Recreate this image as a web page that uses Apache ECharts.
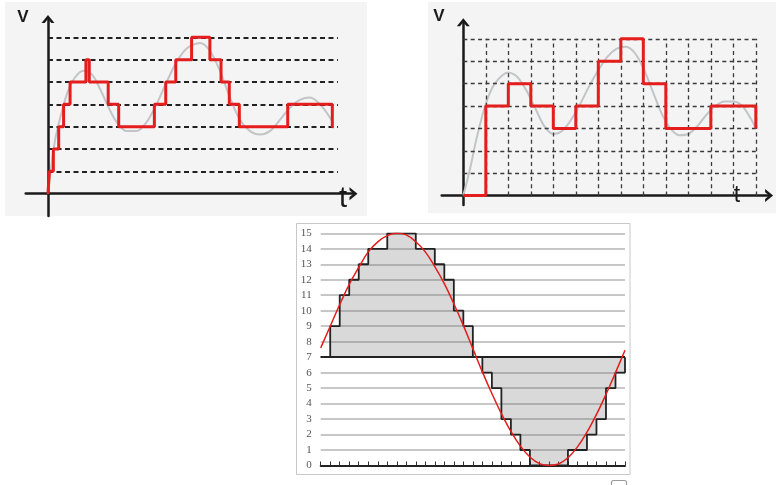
<!DOCTYPE html>
<html>
<head>
<meta charset="utf-8">
<script src="https://cdn.jsdelivr.net/npm/echarts@6/dist/echarts.min.js"></script>
<style>
  html, body { margin: 0; padding: 0; background: #ffffff; }
  #chart { width: 776px; height: 485px; }
</style>
</head>
<body>
<div id="chart"></div>
<script>
// ---- Panel A: irregular-time quantisation (levels 0..7) ----
const aLevels = [1, 2, 3, 4, 5, 6, 7];
const aStepT = [0, 0.06, 0.24, 0.48, 0.70, 0.99, 1.70, 1.85, 2.70, 3.17, 4.77, 5.28, 5.73, 6.44, 7.26, 7.76, 8.13, 8.58, 10.75, 12.75, 12.8];
const aStepV = [0, 1, 2, 3, 4, 5, 6, 5, 4, 3, 4, 5, 6, 7, 6, 5, 4, 3, 4, 3, 3];
const aWaveT = [0, 0.3, 0.6, 0.9, 1.21, 1.58, 1.96, 2.33, 2.7, 3.08, 3.53, 3.98, 4.42, 4.87, 5.32, 5.77, 6.22, 6.82, 7.26, 7.71, 8.16, 8.61, 9.06, 9.5, 9.95, 10.4, 10.85, 11.3, 11.75, 12.2, 12.65, 12.8];
const aWaveV = [0, 2.3, 3.6, 4.6, 5.2, 5.5, 5.35, 4.7, 3.9, 3.2, 2.8, 2.8, 3.2, 4.0, 5.0, 5.9, 6.5, 6.75, 6.4, 5.5, 4.3, 3.3, 2.8, 2.65, 2.8, 3.3, 3.85, 4.2, 4.3, 4.0, 3.4, 3.1];

// ---- Panel B: sampled at fixed intervals (13 columns, levels 0..7) ----
const bColumns = [1, 2, 3, 4, 5, 6, 7, 8, 9, 10, 11, 12, 13];
const bLevels = [1, 2, 3, 4, 5, 6, 7];
const bStepT = [0, 1, 2, 3, 4, 5, 6, 7, 8, 9, 11, 13];
const bStepV = [0, 4, 5, 4, 3, 4, 6, 7, 5, 3, 4, 3];
const bWaveT = [0, 0.3, 0.6, 1.0, 1.4, 2.0, 2.4, 2.8, 3.2, 3.6, 4.0, 4.4, 4.8, 5.2, 5.6, 6.0, 6.4, 6.8, 7.2, 7.6, 8.0, 8.4, 8.8, 9.2, 9.6, 10.0, 10.4, 10.8, 11.2, 11.6, 12.0, 12.4, 12.8, 13.0];
const bWaveV = [0, 1.2, 2.6, 4.1, 5.0, 5.5, 5.3, 4.7, 3.9, 3.1, 2.75, 2.9, 3.4, 4.1, 4.9, 5.6, 6.2, 6.55, 6.65, 6.4, 5.7, 4.7, 3.7, 3.0, 2.7, 2.75, 3.1, 3.6, 4.0, 4.2, 4.2, 4.0, 3.4, 3.0];

// ---- Panel C: 4-bit quantised sine (32 samples, codes 0..15) ----
const cCodes = [7, 9, 11, 12, 13, 14, 14, 15, 15, 15, 14, 14, 13, 12, 10, 9, 7, 6, 5, 3, 2, 1, 0, 0, 0, 0, 1, 1, 2, 3, 5, 6, 7];
const cSine = [7.6, 9.0, 10.4, 11.7, 12.8, 13.8, 14.45, 14.85, 15.0, 14.9, 14.45, 13.8, 12.85, 11.75, 10.45, 9.05, 7.55, 6.05, 4.65, 3.35, 2.2, 1.25, 0.55, 0.12, 0.0, 0.1, 0.5, 1.2, 2.15, 3.3, 4.6, 6.0, 7.45];
const cMidCode = 7;

const RED = '#e41d1d';
const INK = '#1a1a1a';
const ARROW = 'path://M0,8 L6.5,0 L13,8 L9.8,8 L6.5,3.96 L3.2,8 Z';

const zip = (xs, ys) => xs.map((x, i) => [x, ys[i]]);
const hLines = (levels, x0, x1) => levels.map(l => [{ coord: [x0, l] }, { coord: [x1, l] }]);
const vLines = (cols, y0, y1) => cols.map(c => [{ coord: [c, y0] }, { coord: [c, y1] }]);

function arrowAxis(idx, min, max) {
  return {
    type: 'value', gridIndex: idx, min: min, max: max,
    axisLine: { show: true, onZero: true, symbol: ['none', ARROW], symbolSize: [13, 8],
                lineStyle: { color: INK, width: 2.5 } },
    axisTick: { show: false }, axisLabel: { show: false }, splitLine: { show: false }
  };
}

const chart = echarts.init(document.getElementById('chart'), null, { renderer: 'canvas' });

chart.setOption({
  animation: false,
  backgroundColor: '#ffffff',
  grid: [
    { left: 25.7, top: 19, width: 327.8, height: 197 },
    { left: 441.7, top: 22.3, width: 327.4, height: 182.7 },
    { left: 320.7, top: 233.3, width: 304.3, height: 232.2 }
  ],
  xAxis: [
    arrowAxis(0, -1, 13.7),
    arrowAxis(1, -0.96, 13.59),
    {
      type: 'value', gridIndex: 2, min: 0, max: 32, interval: 1,
      axisLine: { show: true, onZero: false, lineStyle: { color: '#222', width: 2 } },
      axisTick: { show: true, inside: true, length: 4, lineStyle: { color: '#333', width: 1 } },
      axisLabel: { show: false }, splitLine: { show: false }
    }
  ],
  yAxis: [
    arrowAxis(0, -1, 7.82),
    arrowAxis(1, -0.42, 7.74),
    {
      type: 'value', gridIndex: 2, min: 0, max: 15, interval: 1,
      axisLine: { show: false }, axisTick: { show: false },
      axisLabel: { fontFamily: '"Liberation Serif", "DejaVu Serif", serif', fontSize: 11, color: '#555', margin: 9 },
      splitLine: { lineStyle: { color: '#b4b4b4', width: 1.5 } }
    }
  ],
  graphic: [
    { type: 'rect', z: -10, silent: true, shape: { x: 5, y: 2, width: 362, height: 214 }, style: { fill: '#f4f4f4' } },
    { type: 'rect', z: -10, silent: true, shape: { x: 428, y: 2, width: 348, height: 211 }, style: { fill: '#f4f4f4' } },
    { type: 'rect', z: -10, silent: true, shape: { x: 296.5, y: 223.5, width: 333.5, height: 251 }, style: { fill: '#ffffff', stroke: '#c8c8c8', lineWidth: 1 } },
    { type: 'rect', z: 10, silent: true, shape: { x: 611.5, y: 480.5, width: 15, height: 9, r: 2 }, style: { fill: 'none', stroke: '#9a9a9a', lineWidth: 1.2 } },
    { type: 'text', z: 10, x: 23, y: 17.5, style: { text: 'V', font: 'bold 17px "Liberation Sans"', fill: INK, align: 'center', verticalAlign: 'middle' } },
    { type: 'text', z: 10, x: 343, y: 199, style: { text: 't', font: '29px "Liberation Sans"', fill: INK, align: 'center', verticalAlign: 'middle' } },
    { type: 'text', z: 10, x: 439, y: 16, style: { text: 'V', font: 'bold 17px "Liberation Sans"', fill: INK, align: 'center', verticalAlign: 'middle' } },
    { type: 'text', z: 10, x: 737, y: 196, style: { text: 't', font: '23px "Liberation Sans"', fill: INK, align: 'center', verticalAlign: 'middle' } }
  ],
  series: [
    // Panel A
    {
      type: 'line', xAxisIndex: 0, yAxisIndex: 0, smooth: 0.3, showSymbol: false, silent: true, z: 3,
      data: zip(aWaveT, aWaveV),
      lineStyle: { color: '#c2c4c8', width: 2 },
      markLine: {
        silent: true, symbol: 'none', label: { show: false },
        lineStyle: { color: '#222', width: 2, type: [5, 3.5] },
        data: hLines(aLevels, 0, 13)
      }
    },
    {
      type: 'line', xAxisIndex: 0, yAxisIndex: 0, step: 'end', showSymbol: false, silent: true, z: 5,
      data: zip(aStepT, aStepV),
      lineStyle: { color: RED, width: 3 }
    },
    // Panel B
    {
      type: 'line', xAxisIndex: 1, yAxisIndex: 1, smooth: 0.3, showSymbol: false, silent: true, z: 3,
      data: zip(bWaveT, bWaveV),
      lineStyle: { color: '#c2c4c8', width: 2 },
      markLine: {
        silent: true, symbol: 'none', label: { show: false },
        lineStyle: { color: '#3a3a3a', width: 1.3, type: [4, 3.4] },
        data: hLines(bLevels, 0, 13).concat(vLines(bColumns, 0, 7))
      }
    },
    {
      type: 'line', xAxisIndex: 1, yAxisIndex: 1, step: 'end', showSymbol: false, silent: true, z: 5,
      data: zip(bStepT, bStepV),
      lineStyle: { color: RED, width: 3 }
    },
    // Panel C
    {
      type: 'line', xAxisIndex: 2, yAxisIndex: 2, step: 'end', showSymbol: false, silent: true, z: 3,
      data: cCodes.map((v, i) => [i, v]),
      lineStyle: { color: '#222', width: 1.8 },
      areaStyle: { color: 'rgba(105,105,105,0.36)', origin: cMidCode },
      markLine: {
        silent: true, symbol: 'none', label: { show: false },
        lineStyle: { color: '#222', width: 1.8, type: 'solid' },
        data: [{ yAxis: cMidCode }]
      }
    },
    {
      type: 'line', xAxisIndex: 2, yAxisIndex: 2, smooth: 0.4, showSymbol: false, silent: true, z: 5,
      data: cSine.map((v, i) => [i, v]),
      lineStyle: { color: RED, width: 1.5 }
    }
  ]
});
</script>
</body>
</html>
